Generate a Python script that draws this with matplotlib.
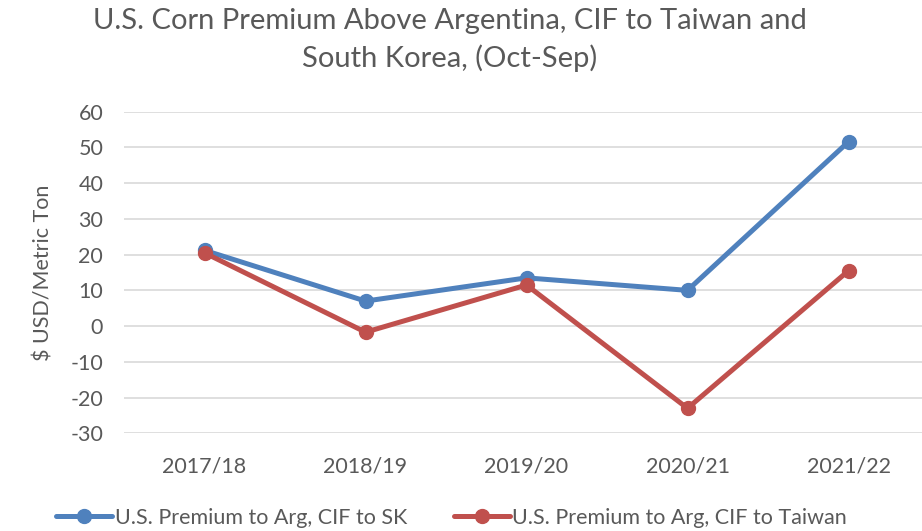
import matplotlib.pyplot as plt

years = ['2017/18', '2018/19', '2019/20', '2020/21', '2021/22']
sk = [21.2, 7.0, 13.5, 10.0, 51.6]
taiwan = [20.5, -1.7, 11.5, -23.0, 15.5]

plt.rcParams['font.family'] = ['Lato', 'DejaVu Sans']
plt.rcParams['axes.unicode_minus'] = False
grey = '#595959'

fig = plt.figure(figsize=(9.22, 5.31), dpi=100)
ax = fig.add_axes([124 / 922, (531 - 433.3) / 531, 805 / 922, 321.6 / 531])

x = range(len(years))
ax.plot(x, sk, color='#4f81bd', lw=3.6, marker='o', ms=10,
        label='U.S. Premium to Arg, CIF to SK', solid_capstyle='round')
ax.plot(x, taiwan, color='#c0504d', lw=3.6, marker='o', ms=10,
        label='U.S. Premium to Arg, CIF to Taiwan', solid_capstyle='round')

ax.set_xlim(-0.5, 4.5)
ax.set_ylim(-30, 60)
ax.set_yticks(range(-30, 61, 10))
ax.set_xticks(list(x))
ax.set_xticklabels(years)
ax.grid(axis='y', color='#d9d9d9', lw=1.2)
ax.set_axisbelow(True)
for s in ax.spines.values():
    s.set_visible(False)
ax.tick_params(length=0, labelsize=15.5, colors=grey)
ax.tick_params(axis='y', pad=15)
ax.tick_params(axis='x', pad=17)
ax.set_ylabel('$ USD/Metric Ton', fontsize=15.5, color=grey, labelpad=12)

fig.text(0.488, 0.985, 'U.S. Corn Premium Above Argentina, CIF to Taiwan and\nSouth Korea, (Oct-Sep)',
         ha='center', va='top', fontsize=21, color=grey, linespacing=1.45)

fig.legend(loc='lower center', bbox_to_anchor=(0.49, -0.03), ncol=2, frameon=False,
           fontsize=15.5, labelcolor=grey, handlelength=2.6, handletextpad=0.1,
           columnspacing=2.2)

fig.savefig('out.png', dpi=100)
